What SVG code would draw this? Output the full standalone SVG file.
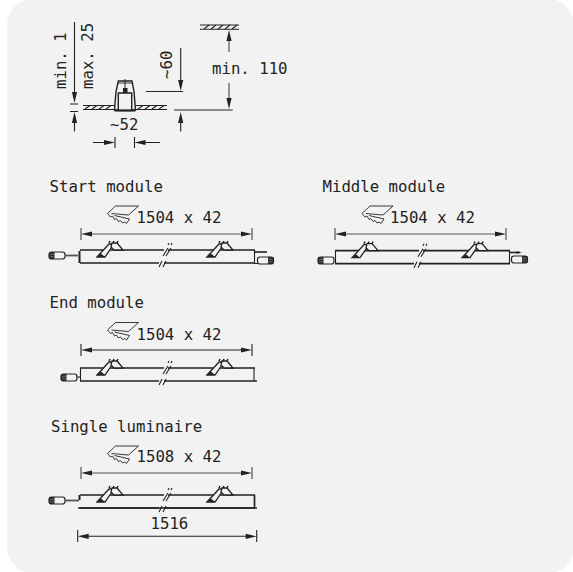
<svg xmlns="http://www.w3.org/2000/svg" width="573" height="572" viewBox="0 0 573 572">
<style>
text{font-family:"DejaVu Sans Mono","Liberation Mono",monospace;font-size:15.7px;fill:#222}
.l{fill:none;stroke:#222;stroke-width:1.1}
.t{fill:none;stroke:#222;stroke-width:1.7}
.g{fill:none;stroke:#555;stroke-width:1.2}
.s{fill:none;stroke:#222;stroke-width:.9}
</style>
<defs>
<path id="ah" d="M0 0L-11 -2.600V2.600Z" fill="#222"/>
<g id="saw">
<path class="s" d="M0 8.500L8 1H31L21 10L4 8.500"/>
<path class="s" d="M0 8.500L3 12L5 11L7 14.500L9 13.500L11 16.500L13 15.500L15 18L17 17L19 18.500L22 14L7 10.500"/>
</g>
<g id="lum">
<path class="t" d="M0 0H84M88 0H175"/>
<path class="t" d="M0 13H79M84 13H175"/>
<path class="l" d="M83 6L88 -2M86 6L91 -2M88 -5L89 -7M91 -5L92 -7M79 17L82 11M83 17L86 11"/>
<g id="clip">
<path d="M17 7L29 -6H34L25 7Z" fill="#f2f2f2" stroke="#222" stroke-width="1.300"/>
<path d="M32 -7L37 -7L43 0H34L31 -3Z" fill="#f2f2f2" stroke="#222" stroke-width="1.300"/>
<path d="M17 7H25L21 3.500Z" fill="#222"/>
<path d="M29 -7L30 -9M33 -7L34 -9M37 -7L38 -9" stroke="#222" stroke-width="1.500"/>
</g>
<use href="#clip" x="110"/>
</g>
<g id="conn">
<rect x="0" y="0" width="16" height="7" rx="2.500" fill="#f2f2f2" stroke="#222" stroke-width="1.200"/>
<rect x="0" y="0" width="5.500" height="7" fill="#2a2a2a"/>
<path d="M1 2.300H5M1 4.700H5" stroke="#999" stroke-width=".6"/>
</g>
</defs>
<rect width="573" height="572" fill="#fff"/>
<rect x="7" y="-1" width="567" height="574" rx="26" fill="#f2f2f2"/>
<g id="connectors">
<g id="dims-top">
<path class="l" d="M74.500 22V96M74.500 120V131.500M70 104H78M70 111.500H78M180.700 120V131.500"/>
<use href="#ah" transform="translate(74.500 103) rotate(90)"/>
<use href="#ah" transform="translate(74.500 112) rotate(-90)"/>
<path class="l" d="M180.700 48V82M146 91.500H183"/>
<use href="#ah" transform="translate(180.700 91) rotate(90)"/>
<path class="l" d="M174 110H232.700"/>
<use href="#ah" transform="translate(180.700 112) rotate(-90)"/>
<path class="g" d="M229 40V52M229 83V100"/>
<use href="#ah" transform="translate(229 30) rotate(-90)"/>
<use href="#ah" transform="translate(229 109) rotate(90)"/>
<path class="l" d="M93 142.500H105M115 137V148M134.500 137V148M145 142.500H160"/>
<use href="#ah" transform="translate(115 142.500)"/>
<use href="#ah" transform="translate(134.500 142.500) rotate(180)"/>
</g>
<g id="dim-start">
<path class="g" d="M90 234H243M81 228V240M252 228V240"/>
<use href="#ah" transform="translate(81 234) rotate(180)"/><use href="#ah" transform="translate(252 234)"/>
</g>
<g id="dim-middle">
<path class="g" d="M344 234H497M335 228V240M506 228V240"/>
<use href="#ah" transform="translate(335 234) rotate(180)"/><use href="#ah" transform="translate(506 234)"/>
</g>
<g id="dim-end">
<path class="l" d="M90 350H243M81 344V356M252 344V356"/>
<use href="#ah" transform="translate(81 350) rotate(180)"/><use href="#ah" transform="translate(252 350)"/>
</g>
<g id="dim-single">
<path class="g" d="M90 473H243M81 467V479M252 467V479"/>
<use href="#ah" transform="translate(81 473) rotate(180)"/><use href="#ah" transform="translate(252 473)"/>
<path class="l" d="M87 536.300H248M77.700 530V542M256.700 530V542"/>
<use href="#ah" transform="translate(77.700 536.300) rotate(180)"/><use href="#ah" transform="translate(256.700 536.300)"/>
</g>
</g>
<g id="section-drawing">
<text transform="translate(66 89) rotate(-90)">min. 1</text>
<text transform="translate(93 89) rotate(-90)">max. 25</text>
<text transform="translate(172 79) rotate(-90)">~60</text>
<text x="212" y="73.500">min. 110</text>
<text x="110" y="130">~52</text>
<path class="l" d="M83 105.500H115M83 109.500H115M135 105.500H167M135 109.500H167M200 25H239M200 29.300H239"/>
<path class="l" d="M85 109L90 105.500M92 109L97 105.500M99 109L104 105.500M106 109L111 105.500M138 109L143 105.500M145 109L150 105.500M152 109L157 105.500M159 109L164 105.500M204 29L209 25M211 29L216 25M218 29L223 25M225 29L230 25M232 29L237 25"/>
<path d="M116 91.700L118.300 81H132L134 91.700L135.500 110H114.500Z" fill="#f2f2f2" stroke="#222" stroke-width="1.400"/>
<path d="M118.300 93H131.700V110.500H118.300Z" fill="#f2f2f2" stroke="#222" stroke-width="1.400"/>
<path d="M114.500 110.500H135.500" stroke="#222" stroke-width="2"/>
<path d="M118 83H132" stroke="#222" stroke-width=".9"/>
<path d="M125 79V88" stroke="#222" stroke-width="1"/>
<rect x="123" y="88" width="4.500" height="5" fill="#222"/>
</g>
<g id="start-module">
<text x="49.500" y="191.500">Start module</text>
<use href="#saw" x="107.500" y="205"/>
<text x="136.500" y="223">1504 x 42</text>
<use href="#lum" x="80" y="250"/>
<use href="#conn" x="49" y="252"/>
<path d="M65 255.500H78" stroke="#555" stroke-width="1.800"/>
<path d="M79.500 251V263" stroke="#222" stroke-width="2"/>
<path class="l" d="M254.500 250V263.500H258"/>
<path d="M255 252H267" stroke="#222" stroke-width="1.600"/>
<use href="#conn" transform="matrix(-1 0 0 1 273.500 257)"/>
</g>
<g id="middle-module">
<text x="322.500" y="191.500">Middle module</text>
<use href="#saw" x="362" y="205"/>
<text x="390" y="223">1504 x 42</text>
<use href="#lum" x="335" y="250.700"/>
<path class="l" d="M335.500 251V263.500"/>
<use href="#conn" x="318" y="257"/>
<path class="l" d="M509.500 250.700V263.700"/>
<path d="M510 252.500H520" stroke="#222" stroke-width="1.600"/>
<use href="#ah" transform="translate(522 252.500) scale(.5)"/>
<use href="#conn" transform="matrix(-1 0 0 1 527.500 256)"/>
</g>
<g id="end-module">
<text x="49.500" y="307.500">End module</text>
<use href="#saw" x="107.500" y="321.500"/>
<text x="136.500" y="340">1504 x 42</text>
<use href="#lum" x="80" y="368"/>
<use href="#conn" x="61" y="374"/>
<path class="l" d="M80.500 368V381M254 368V381"/>
<path d="M255 381H257" class="t"/>
<path d="M76 377H80" stroke="#555" stroke-width="1.500"/>
</g>
<g id="single-luminaire">
<text x="51" y="431.500">Single luminaire</text>
<use href="#saw" x="107.500" y="445"/>
<text x="136.500" y="462">1508 x 42</text>
<use href="#lum" x="80" y="495"/>
<path class="t" d="M78 508H257M254.500 495V508"/>
<path d="M79.500 495V500" stroke="#222" stroke-width="2"/>
<use href="#conn" x="49" y="497"/>
<path d="M65 500.500H79" stroke="#555" stroke-width="1.800"/>
<text x="150.500" y="529">1516</text>
</g>
</svg>
